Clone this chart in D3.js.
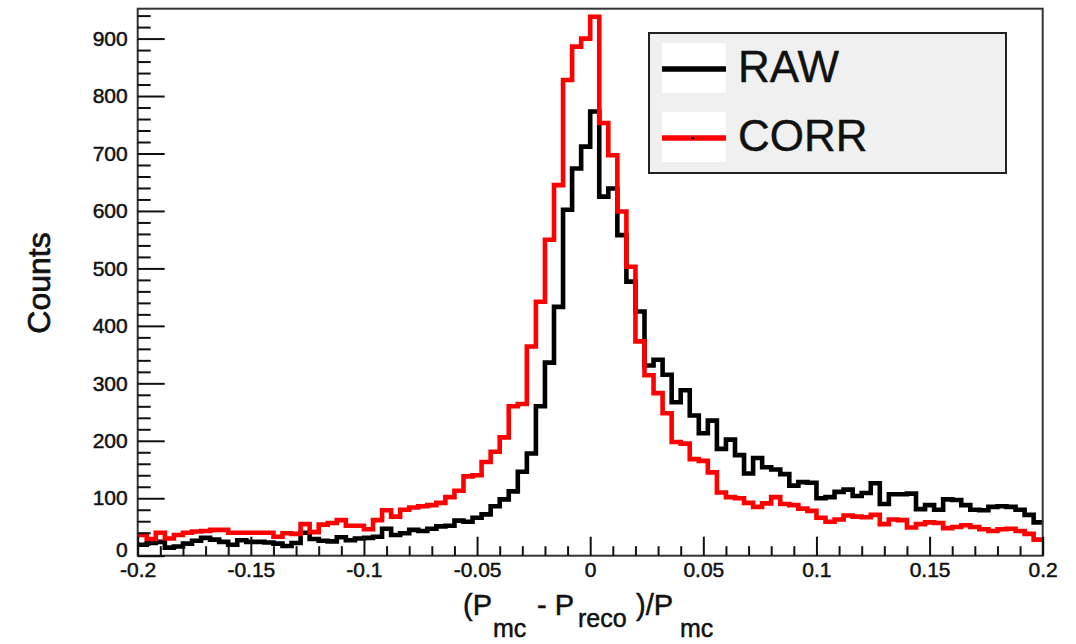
<!DOCTYPE html>
<html>
<head>
<meta charset="utf-8">
<script src="https://cdn.jsdelivr.net/npm/d3@7"></script>
<style>
  body { margin: 0; background: #fff; }
  svg { display: block; font-family: "Liberation Sans", Arial, sans-serif; }
</style>
</head>
<body>
<div id="chart"></div>
<script>
// histogram: 100 bins between -0.2 and 0.2
var xDomain = [-0.2, 0.2];
var nBins = 100;
var yMax = 952;

var rawCounts = [
  19, 22, 24, 14, 16, 21, 26, 31, 28, 24,
  19, 27, 24, 24, 23, 21, 17, 22, 40, 29,
  26, 25, 32, 27, 30, 31, 33, 47, 36, 39,
  45, 43, 47, 51, 52, 61, 59, 66, 72, 86,
  98, 112, 146, 178, 260, 336, 433, 602, 674, 712,
  773, 625, 639, 558, 477, 425, 331, 341, 315, 267,
  288, 244, 213, 235, 186, 202, 175, 143, 170, 154,
  150, 142, 122, 128, 127, 100, 102, 111, 115, 104,
  109, 126, 90, 107, 107, 108, 81, 88, 80, 98,
  97, 88, 80, 79, 85, 86, 85, 80, 71, 58
];

var corrCounts = [
  36, 29, 40, 30, 36, 40, 42, 43, 45, 45,
  40, 40, 40, 40, 40, 33, 39, 38, 55, 41,
  54, 57, 62, 52, 52, 46, 62, 79, 68, 80,
  84, 86, 88, 92, 102, 113, 138, 140, 163, 181,
  206, 260, 264, 364, 442, 550, 645, 828, 886, 900,
  938, 753, 697, 599, 503, 373, 314, 283, 248, 198,
  195, 168, 165, 145, 110, 102, 100, 92, 85, 91,
  102, 90, 88, 82, 78, 66, 59, 63, 70, 68,
  67, 71, 55, 63, 62, 49, 55, 58, 57, 48,
  50, 53, 50, 46, 43, 46, 47, 43, 38, 28
];

var xMajor = [-0.2, -0.15, -0.1, -0.05, 0, 0.05, 0.1, 0.15, 0.2];
var xLabels = ["-0.2", "-0.15", "-0.1", "-0.05", "0", "0.05", "0.1", "0.15", "0.2"];
var yMajor = [0, 100, 200, 300, 400, 500, 600, 700, 800, 900];

var series = [
  { name: "RAW", values: rawCounts, color: "#000000" },
  { name: "CORR", values: corrCounts, color: "#ff0000" }
];

var w = 1076;
var h = 644;

var svg = d3
  .select("#chart")
  .append("svg")
  .attr("width", w)
  .attr("height", h);

var x = d3.scaleLinear().domain(xDomain).range([137.7, 1042.7]);
var y = d3.scaleLinear().domain([0, yMax]).range([555.7, 8.7]);

var binWidth = (xDomain[1] - xDomain[0]) / nBins;
var edges = d3.range(nBins + 1).map((i) => xDomain[0] + i * binWidth);
var xMinor = d3.range(-0.2, 0.2001, 0.01).filter(
  (v) => !xMajor.some((m) => Math.abs(m - v) < 1e-6)
);
var yMinor = d3.range(0, yMax, 20).filter((v) => v % 100 != 0);

// histograms (step lines)
var stepLine = d3
  .line()
  .x((d) => x(d[0]))
  .y((d) => y(d[1]))
  .curve(d3.curveStepAfter);

var plot = svg.append("g");
series.forEach((s) => {
  var pts = s.values.map((v, i) => [edges[i], v]);
  pts.push([edges[nBins], s.values[nBins - 1]]);
  plot
    .append("path")
    .attr("d", stepLine(pts))
    .attr("fill", "none")
    .attr("stroke", s.color)
    .attr("stroke-width", 4.6)
    .attr("stroke-linejoin", "miter");
});

// frame
svg
  .append("rect")
  .attr("x", x(xDomain[0]))
  .attr("y", y(yMax))
  .attr("width", x(xDomain[1]) - x(xDomain[0]))
  .attr("height", y(0) - y(yMax))
  .attr("fill", "none")
  .attr("stroke", "#333")
  .attr("stroke-width", 2);

// y axis (ticks pointing inward)
var yAxis = d3
  .axisLeft(y)
  .tickValues(yMajor)
  .tickSizeInner(-27)
  .tickSizeOuter(0)
  .tickPadding(10)
  .tickFormat((d) => d);
var gy = svg
  .append("g")
  .attr("transform", "translate(" + x(xDomain[0]) + ",0)")
  .call(yAxis);
gy.append("g").call(
  d3.axisLeft(y).tickValues(yMinor).tickSizeInner(-13).tickSizeOuter(0).tickFormat("")
);

// x axis
var xAxis = d3
  .axisBottom(x)
  .tickValues(xMajor)
  .tickSizeInner(-19)
  .tickSizeOuter(0)
  .tickPadding(6)
  .tickFormat((d, i) => xLabels[i]);
var gx = svg
  .append("g")
  .attr("transform", "translate(0," + y(0) + ")")
  .call(xAxis);
gx.append("g").call(
  d3.axisBottom(x).tickValues(xMinor).tickSizeInner(-9.5).tickSizeOuter(0).tickFormat("")
);

svg.selectAll(".domain").remove();
svg.selectAll(".tick line").attr("stroke", "#111").attr("stroke-width", 2);
svg
  .selectAll(".tick text")
  .attr("font-size", 21)
  .attr("fill", "#111")
  .attr("stroke", "#111")
  .attr("stroke-width", 0.5)
  .attr("font-family", '"Liberation Sans", Arial, sans-serif');
// the "0" of the y axis sits just above the "-0.2" label
gy.selectAll(".tick text").filter((d) => d == 0).attr("dy", "0.04em");

// axis titles
svg
  .append("text")
  .attr("transform", "translate(50,283) rotate(-90)")
  .attr("text-anchor", "middle")
  .attr("font-size", 32)
  .attr("fill", "#111")
  .attr("stroke", "#111")
  .attr("stroke-width", 0.7)
  .text("Counts");

var xt = svg
  .append("text")
  .attr("fill", "#111")
  .attr("stroke", "#111")
  .attr("stroke-width", 0.5);
var titleParts = [
  { t: "(P", x: 463, y: 615, s: 29 },
  { t: "mc", x: 493, y: 637, s: 25 },
  { t: "- P", x: 537, y: 615, s: 29 },
  { t: "reco", x: 578, y: 627, s: 25 },
  { t: ")/P", x: 636, y: 615, s: 29 },
  { t: "mc", x: 680, y: 637, s: 25 }
];
titleParts.forEach((p) => {
  xt.append("tspan")
    .attr("x", p.x)
    .attr("y", p.y)
    .attr("font-size", p.s)
    .style("white-space", "pre")
    .text(p.t);
});

// legend
var legend = svg.append("g");
legend
  .append("rect")
  .attr("x", 649)
  .attr("y", 33)
  .attr("width", 357)
  .attr("height", 140)
  .attr("fill", "#f0f0f0")
  .attr("stroke", "#222")
  .attr("stroke-width", 2);

series.forEach((s, i) => {
  var cy = 69 + i * 69;
  legend
    .append("rect")
    .attr("x", 662)
    .attr("y", cy - 26)
    .attr("width", 64)
    .attr("height", 50)
    .attr("fill", "#fff");
  legend
    .append("line")
    .attr("x1", 662)
    .attr("x2", 726)
    .attr("y1", cy)
    .attr("y2", cy)
    .attr("stroke", s.color)
    .attr("stroke-width", 5.5);
  legend
    .append("text")
    .attr("x", 738)
    .attr("y", cy + 13)
    .attr("font-size", 44)
    .attr("fill", "#111")
    .attr("stroke", "#111")
    .attr("stroke-width", 0.4)
    .text(s.name);
});
// tiny marker dot on the CORR entry
legend
  .append("rect")
  .attr("x", 691)
  .attr("y", 137)
  .attr("width", 3)
  .attr("height", 2)
  .attr("fill", "#000");
</script>
</body>
</html>
